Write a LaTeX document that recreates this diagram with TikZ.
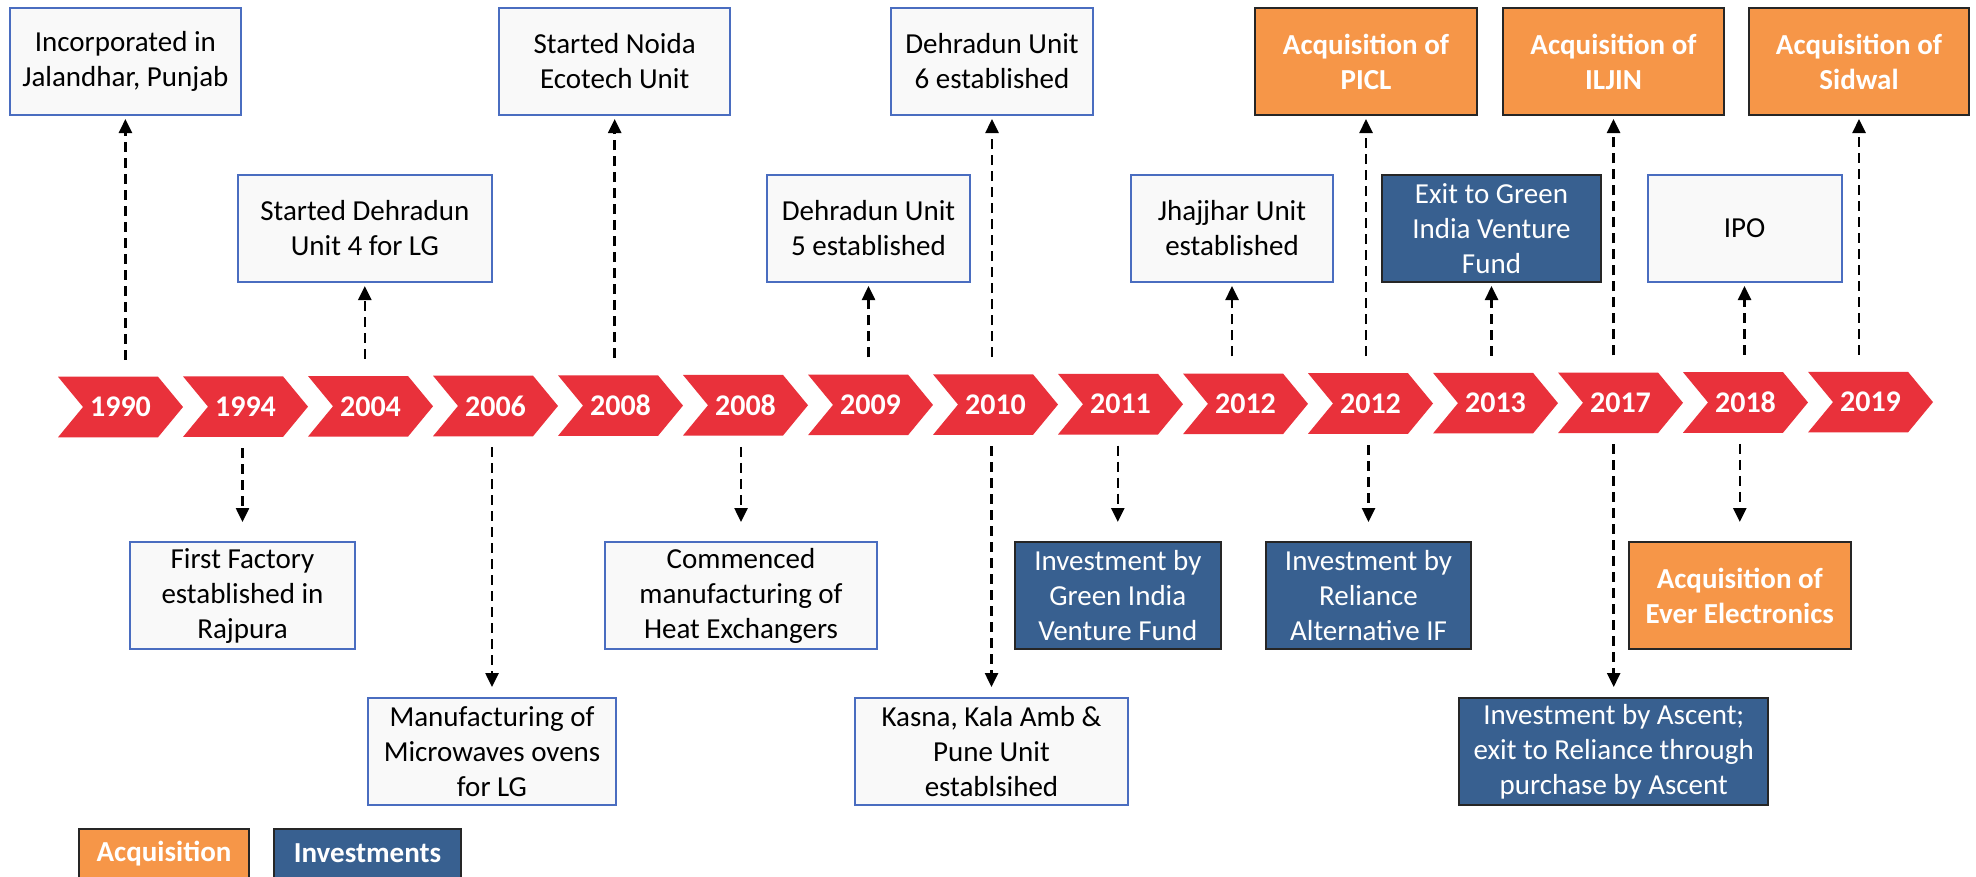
\documentclass[tikz,border=0pt]{standalone}
\usepackage{fontspec}
\setmainfont{Carlito}
\usetikzlibrary{arrows.meta}
\definecolor{chevred}{HTML}{E9313B}
\definecolor{acqorange}{HTML}{F69648}
\definecolor{invblue}{HTML}{386090}
\definecolor{plainfill}{HTML}{F9F9F9}
\definecolor{plainedge}{HTML}{4A6DC0}
\begin{document}
\begin{tikzpicture}[x=1pt,y=-1pt,
  every node/.style={font=\fontsize{29}{35}\selectfont, align=center},
  boxbase/.style={draw, line width=2pt, minimum height=107pt, inner sep=2pt},
  plainbox/.style={boxbase, fill=plainfill, draw=plainedge, text=black},
  acqbox/.style={boxbase, fill=acqorange, draw=black!85, text=white, font=\fontsize{29}{35}\selectfont\bfseries},
  invbox/.style={boxbase, fill=invblue, draw=black!85, text=white},
  yearlbl/.style={text=white, font=\fontsize{30}{36}\selectfont\bfseries, minimum height=60.6pt, inner sep=0pt},
  arr/.style={dash pattern=on 10pt off 6pt, line width=2.5pt, -{Triangle[width=13pt,length=14pt]}},
  uparr/.style={arr, shorten <=17pt, shorten >=3pt},
  downnear/.style={arr, shorten <=11pt, shorten >=19pt},
  downfar/.style={arr, shorten <=11pt, shorten >=10pt}
]
\clip (0,0) rectangle (1976,876);
\fill[white] (0,0) rectangle (1976,876);

% chevrons
\foreach \yr [count=\i from 0] in {1990,1994,2004,2006,2008,2008,2009,2010,2011,2012,2012,2013,2017,2018,2019}{
  \pgfmathsetmacro\chl{58+125*\i}
  \pgfmathsetmacro\chy{407-0.35*\i}
  \fill[chevred] (\chl,\chy-30.3) -- (\chl+100,\chy-30.3) -- (\chl+125,\chy) -- (\chl+100,\chy+30.3) -- (\chl,\chy+30.3) -- (\chl+25,\chy) -- cycle;
  \node[yearlbl] (c\i) at (\chl+62.5,\chy) {\yr};
}

% top row
\node[plainbox, minimum width=231pt] (bInc) at (125.4,61.5) {Incorporated in\\Jalandhar, Punjab};
\node[plainbox, minimum width=231pt] (bNoida) at (614.7,61.5) {Started Noida\\Ecotech Unit};
\node[plainbox, minimum width=202pt] (bU6) at (992,61.5) {Dehradun Unit\\6 established};
\node[acqbox, minimum width=222pt] (bPICL) at (1366,61.5) {Acquisition of\\PICL};
\node[acqbox, minimum width=221pt] (bILJIN) at (1613.5,61.5) {Acquisition of\\ILJIN};
\node[acqbox, minimum width=220.5pt] (bSid) at (1859,61.5) {Acquisition of\\Sidwal};

% second row
\node[plainbox, minimum width=253.5pt] (bU4) at (364.8,228.5) {Started Dehradun\\Unit 4 for LG};
\node[plainbox, minimum width=203pt] (bU5) at (868.5,228.5) {Dehradun Unit\\5 established};
\node[plainbox, minimum width=202.5pt] (bJh) at (1232,228.5) {Jhajjhar Unit\\established};
\node[invbox, minimum width=219pt] (bExit) at (1491.5,228.5) {Exit to Green\\India Venture\\Fund};
\node[plainbox, minimum width=194pt] (bIPO) at (1744.5,228.5) {IPO};

% third row
\node[plainbox, minimum width=225pt] (bFirst) at (242.5,595.5) {First Factory\\established in\\Rajpura};
\node[plainbox, minimum width=272pt] (bComm) at (741,595.5) {Commenced\\manufacturing of\\Heat Exchangers};
\node[invbox, minimum width=205.5pt] (bGIVF) at (1117.8,595.5) {Investment by\\Green India\\Venture Fund};
\node[invbox, minimum width=205pt] (bRel) at (1368.5,595.5) {Investment by\\Reliance\\Alternative IF};
\node[acqbox, minimum width=221.5pt] (bEver) at (1739.8,595.5) {Acquisition of\\Ever Electronics};

% fourth row
\node[plainbox, minimum width=248pt] (bMicro) at (492,751.5) {Manufacturing of\\Microwaves ovens\\for LG};
\node[plainbox, minimum width=273pt] (bKasna) at (991.5,751.5) {Kasna, Kala Amb \&\\Pune Unit\\establsihed};
\node[invbox, minimum width=308.5pt] (bAsc) at (1613.7,751.5) {Investment by Ascent;\\exit to Reliance through\\purchase by Ascent};

% legend
\node[acqbox, minimum width=170pt, minimum height=49pt] (lAcq) at (164,853.5) {Acquisition};
\node[invbox, font=\fontsize{29}{35}\selectfont\bfseries, minimum width=187pt, minimum height=49pt] (lInv) at (367.5,853.5) {Investments};

% up arrows
\draw[uparr] (c0.north -| bInc.south) -- (bInc.south);
\draw[uparr] (c2.north -| bU4.south) -- (bU4.south);
\draw[uparr] (c4.north -| bNoida.south) -- (bNoida.south);
\draw[uparr] (c6.north -| bU5.south) -- (bU5.south);
\draw[uparr] (c7.north -| bU6.south) -- (bU6.south);
\draw[uparr] (c9.north -| bJh.south) -- (bJh.south);
\draw[uparr] (c10.north -| bPICL.south) -- (bPICL.south);
\draw[uparr] (c11.north -| bExit.south) -- (bExit.south);
\draw[uparr] (c12.north -| bILJIN.south) -- (bILJIN.south);
\draw[uparr] (c13.north -| bIPO.south) -- (bIPO.south);
\draw[uparr] (c14.north -| bSid.south) -- (bSid.south);

% down arrows
\draw[downnear] (c1.south -| bFirst.north) -- (bFirst.north);
\draw[downfar] (c3.south -| bMicro.north) -- (bMicro.north);
\draw[downnear] (c5.south -| bComm.north) -- (bComm.north);
\draw[downfar] (c7.south -| bKasna.north) -- (bKasna.north);
\draw[downnear] (c8.south -| bGIVF.north) -- (bGIVF.north);
\draw[downnear] (c10.south -| bRel.north) -- (bRel.north);
\draw[downfar] (c12.south -| bAsc.north) -- (bAsc.north);
\draw[downnear] (c13.south -| bEver.north) -- (bEver.north);
\end{tikzpicture}
\end{document}
